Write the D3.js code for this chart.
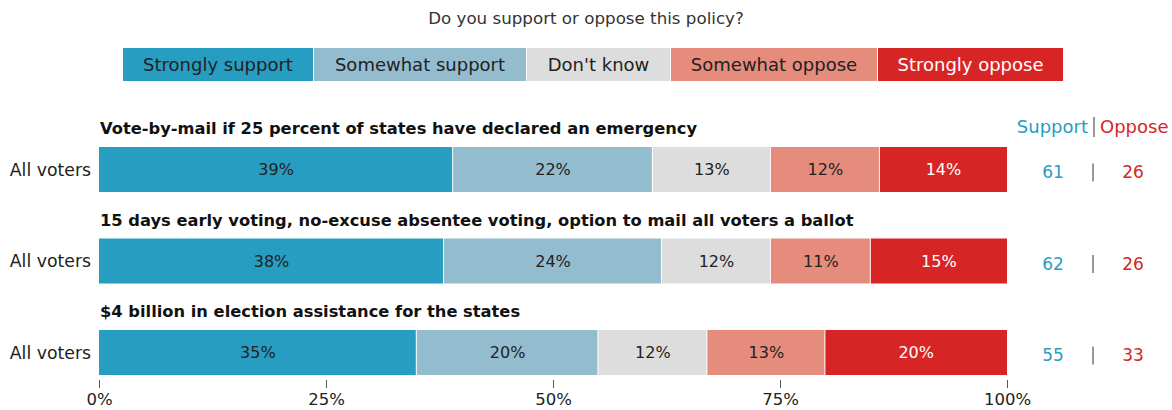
<!DOCTYPE html>
<html>
<head>
<meta charset="utf-8">
<script src="https://cdn.jsdelivr.net/npm/d3@7"></script>
<style>
  body { margin: 0; background: #fff; }
  svg text { font-family: "DejaVu Sans", sans-serif; }
</style>
</head>
<body>
<svg id="chart" width="1172" height="410"></svg>
<script>
// Response categories and their colours
const responses = ["Strongly support", "Somewhat support", "Don't know", "Somewhat oppose", "Strongly oppose"];
const colors = ["#279dc1", "#93bccf", "#dddddd", "#e68c7c", "#d72525"];
const labelColors = ["#222", "#222", "#222", "#222", "#fff"];

// Policies asked about
const policies = [
  "Vote-by-mail if 25 percent of states have declared an emergency",
  "15 days early voting, no-excuse absentee voting, option to mail all voters a ballot",
  "$4 billion in election assistance for the states"
];
const groupLabel = "All voters";

// Shares (%) per policy, in the order of `responses`
const shares = [
  [39, 22, 13, 12, 14],
  [38, 24, 12, 11, 15],
  [35, 20, 12, 13, 20]
];
const supportTotals = [61, 62, 55];
const opposeTotals = [26, 26, 33];

const tickValues = [0, 25, 50, 75, 100];

const svg = d3.select("#chart");

const x = d3.scaleLinear().domain([0, 100]).range([99, 1007]);
const bh = 45;
const rowY = i => 147 + i * 91.5;

// Title
svg.append("text")
  .attr("x", 586).attr("y", 24)
  .attr("text-anchor", "middle")
  .attr("font-size", 16.7).attr("fill", "#333")
  .text("Do you support or oppose this policy?");

// Legend
const legendEdges = [123, 314, 527, 671, 878, 1064];
const lg = svg.append("g");
responses.forEach((r, k) => {
  lg.append("rect")
    .attr("x", legendEdges[k]).attr("y", 48)
    .attr("width", legendEdges[k + 1] - legendEdges[k] - 1).attr("height", 33)
    .attr("fill", colors[k]);
  lg.append("text")
    .attr("x", (legendEdges[k] + legendEdges[k + 1] - 1) / 2).attr("y", 65)
    .attr("dy", "0.35em").attr("text-anchor", "middle")
    .attr("font-size", 18).attr("fill", labelColors[k])
    .text(r);
});

// Column header for totals
svg.append("text").attr("x", 1088).attr("y", 133).attr("text-anchor", "end")
  .attr("font-size", 18).attr("fill", "#279dc1").text("Support");
svg.append("line").attr("x1", 1094).attr("x2", 1094).attr("y1", 117).attr("y2", 137)
  .attr("stroke", "#777").attr("stroke-width", 1.5);
svg.append("text").attr("x", 1100).attr("y", 133).attr("text-anchor", "start")
  .attr("font-size", 18).attr("fill", "#d72525").text("Oppose");

// Rows
policies.forEach((p, i) => {
  const top = rowY(i);
  const g = svg.append("g");

  g.append("text")
    .attr("x", 100).attr("y", top - 13)
    .attr("font-size", 16.3).attr("font-weight", 700).attr("fill", "#111")
    .text(p);

  g.append("text")
    .attr("x", 91).attr("y", top + bh / 2)
    .attr("dy", "0.35em").attr("text-anchor", "end")
    .attr("font-size", 17.3).attr("fill", "#222")
    .text(groupLabel);

  let cum = 0;
  const segs = shares[i].map((v, k) => {
    const s = { k, v, x0: cum, x1: cum + v };
    cum += v;
    return s;
  });

  g.selectAll("rect.seg").data(segs).join("rect")
    .attr("class", "seg")
    .attr("x", d => x(d.x0))
    .attr("y", top)
    .attr("width", d => x(d.x1) - x(d.x0) - (d.k < 4 ? 1 : 0))
    .attr("height", bh)
    .attr("fill", d => colors[d.k]);

  g.selectAll("text.val").data(segs).join("text")
    .attr("class", "val")
    .attr("x", d => (x(d.x0) + x(d.x1)) / 2)
    .attr("y", top + bh / 2)
    .attr("dy", "0.35em").attr("text-anchor", "middle")
    .attr("font-size", 16).attr("fill", d => labelColors[d.k])
    .text(d => d.v + "%");

  g.append("text").attr("x", 1053).attr("y", top + bh / 2 + 3)
    .attr("dy", "0.35em").attr("text-anchor", "middle")
    .attr("font-size", 17).attr("fill", "#279dc1").text(supportTotals[i]);
  g.append("line").attr("x1", 1093).attr("x2", 1093)
    .attr("y1", top + bh / 2 - 6).attr("y2", top + bh / 2 + 12)
    .attr("stroke", "#777").attr("stroke-width", 1.5);
  g.append("text").attr("x", 1133).attr("y", top + bh / 2 + 3)
    .attr("dy", "0.35em").attr("text-anchor", "middle")
    .attr("font-size", 17).attr("fill", "#d72525").text(opposeTotals[i]);
});

// Axis
const axis = svg.append("g")
  .attr("transform", "translate(0,380)")
  .call(d3.axisBottom(x).tickValues(tickValues).tickSize(8).tickPadding(5).tickFormat(d => d + "%"));
axis.select(".domain").remove();
axis.selectAll(".tick line").attr("stroke", "#555");
axis.selectAll(".tick text").attr("font-size", 16.5).attr("fill", "#222")
  .attr("font-family", "\"DejaVu Sans\", sans-serif");
</script>
</body>
</html>
